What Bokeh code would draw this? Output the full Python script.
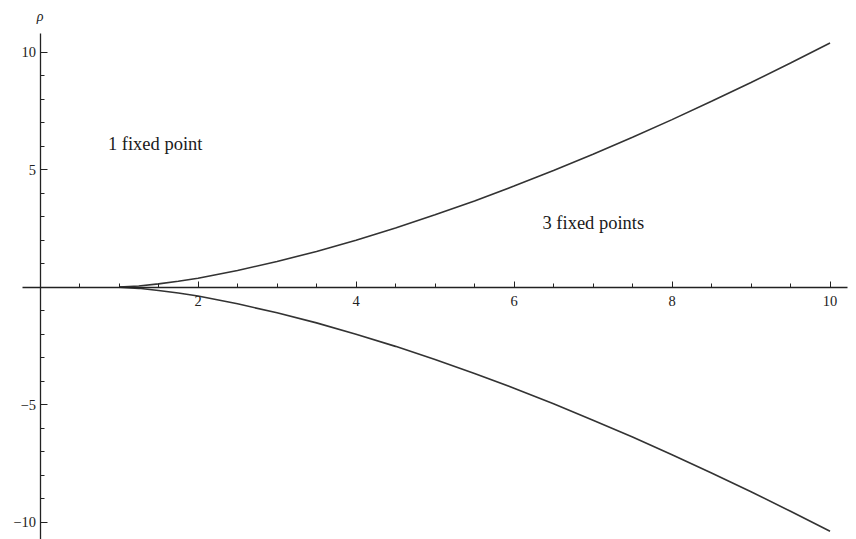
from bokeh.plotting import figure
from bokeh.models import Range1d, FixedTicker, Label
from bokeh.embed import file_html
from bokeh.resources import INLINE
from bokeh.core.properties import value

# Boundary of the three-fixed-point region, read at sample points
r_vals = [1.0, 1.25, 1.5, 1.75, 2.0, 2.5, 3.0, 3.5, 4.0, 4.5, 5.0, 5.5,
          6.0, 6.5, 7.0, 7.5, 8.0, 8.5, 9.0, 9.5, 10.0]
rho_upper = [0.0, 0.05, 0.14, 0.25, 0.38, 0.71, 1.09, 1.52, 2.0, 2.52, 3.08,
             3.67, 4.30, 4.96, 5.66, 6.38, 7.13, 7.91, 8.71, 9.54, 10.39]
rho_lower = [0.0, -0.05, -0.14, -0.25, -0.38, -0.71, -1.09, -1.52, -2.0, -2.52,
             -3.08, -3.67, -4.30, -4.96, -5.66, -6.38, -7.13, -7.91, -8.71,
             -9.54, -10.39]

x_major = [2, 4, 6, 8, 10]
x_minor = [0.5, 1, 1.5, 2.5, 3, 3.5, 4.5, 5, 5.5, 6.5, 7, 7.5, 8.5, 9, 9.5]
y_major = [-10, -5, 5, 10]
y_minor = [-9, -8, -7, -6, -4, -3, -2, -1, 1, 2, 3, 4, 6, 7, 8, 9]

region_labels = ["1 fixed point", "3 fixed points"]

W, H = 856, 539
p = figure(width=W, height=H, output_backend="svg", toolbar_location=None,
           x_range=Range1d(-0.5, 10.335), y_range=Range1d(-10.74, 12.2),
           min_border=0, min_border_left=0, min_border_right=0,
           min_border_top=0, min_border_bottom=0)
p.outline_line_color = None
p.grid.visible = False
p.background_fill_color = "white"
p.border_fill_color = "white"

serif = "Liberation Serif"
axis_col = "#222222"

xa = p.xaxis[0]
xa.fixed_location = 0
xa.bounds = (-0.22, 10.22)
xa.ticker = FixedTicker(ticks=x_major, minor_ticks=x_minor)
xa.major_tick_in = 6
xa.major_tick_out = 0
xa.minor_tick_in = 4
xa.minor_tick_out = 0
xa.major_label_standoff = 9
xa.major_label_text_font = serif
xa.major_label_text_font_size = "14.5px"
xa.major_label_text_color = axis_col
xa.axis_line_color = axis_col
xa.axis_line_width = 1.3
xa.major_tick_line_color = axis_col
xa.minor_tick_line_color = axis_col

ya = p.yaxis[0]
ya.fixed_location = 0
ya.bounds = (-11.5, 10.8)
ya.ticker = FixedTicker(ticks=y_major, minor_ticks=y_minor)
ya.major_tick_in = 7
ya.major_tick_out = 0
ya.minor_tick_in = 4
ya.minor_tick_out = 0
ya.major_label_standoff = 4
ya.major_label_text_font = serif
ya.major_label_text_font_size = "14.5px"
ya.major_label_text_color = axis_col
ya.axis_line_color = axis_col
ya.axis_line_width = 1.3
ya.major_tick_line_color = axis_col
ya.minor_tick_line_color = axis_col

p.line(r_vals, rho_upper, line_color="#333333", line_width=1.6)
p.line(r_vals, rho_lower, line_color="#333333", line_width=1.6)

p.text(x=[0.86, 6.36], y=[6.1, 2.75], text=region_labels,
       text_font=value(serif), text_font_size="18.5px",
       text_color="#1a1a1a", text_baseline="middle", text_align="left")

p.add_layout(Label(x=0, y=11.5, text="ρ", text_font=serif,
                   text_font_style="italic", text_font_size="14px",
                   text_color=axis_col, text_align="center",
                   text_baseline="middle"))

open("out.html", "w").write(file_html(p, INLINE))
